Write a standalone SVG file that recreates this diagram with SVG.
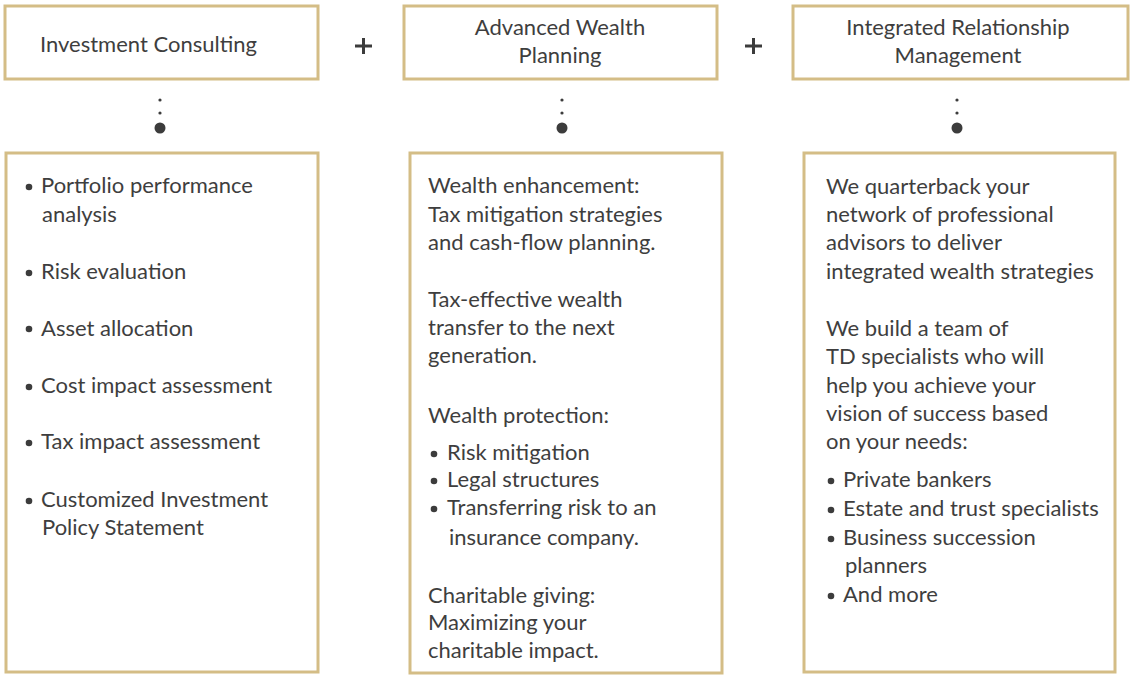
<svg xmlns="http://www.w3.org/2000/svg" width="1132" height="679" viewBox="0 0 1132 679">
<style>
.box{fill:#fff;stroke:#d4bd86;stroke-width:3}
.t{font-family:Lato,"Open Sans",sans-serif;font-size:22px;fill:#3e3e3e}
.c{text-anchor:middle}
.dot{fill:#3c3c3c}
.plus{stroke:#3c3c3c;stroke-width:3}
</style>
<rect width="1132" height="679" fill="#fff"/>
<g id="head1"><rect class="box" x="5" y="6" width="313" height="73"/><text class="t" x="40" y="52">Investment Consulting</text></g>
<g id="head2"><rect class="box" x="404" y="6" width="313" height="73"/><text class="t c" x="560" y="35">Advanced Wealth</text><text class="t c" x="560" y="63">Planning</text></g>
<g id="head3"><rect class="box" x="793" y="6" width="335" height="73"/><text class="t c" x="958" y="35">Integrated Relationship</text><text class="t c" x="958" y="63">Management</text></g>
<g id="plus1"><path class="plus" d="M355 46h17M363.5 38v16"/></g>
<g id="plus2"><path class="plus" d="M745 46h17M753.5 38v16"/></g>
<g id="connectors">
<circle class="dot" cx="160" cy="100" r="1.6"/><circle class="dot" cx="160" cy="113" r="1.6"/><circle class="dot" cx="160" cy="128" r="5.5"/>
<circle class="dot" cx="562" cy="100" r="1.6"/><circle class="dot" cx="562" cy="113" r="1.6"/><circle class="dot" cx="562" cy="128" r="5.5"/>
<circle class="dot" cx="957" cy="100" r="1.6"/><circle class="dot" cx="957" cy="113" r="1.6"/><circle class="dot" cx="957" cy="128" r="5.5"/>
</g>
<g id="body1"><rect class="box" x="6" y="153" width="312" height="519"/>
<g class="dot"><circle cx="29" cy="187" r="3.3"/><circle cx="29" cy="273" r="3.3"/><circle cx="29" cy="329" r="3.3"/><circle cx="29" cy="387" r="3.3"/><circle cx="29" cy="443" r="3.3"/><circle cx="29" cy="501" r="3.3"/></g>
<text class="t" x="41" y="193">Portfolio performance</text>
<text class="t" x="42" y="222">analysis</text>
<text class="t" x="41" y="279">Risk evaluation</text>
<text class="t" x="41" y="336">Asset allocation</text>
<text class="t" x="41" y="393">Cost impact assessment</text>
<text class="t" x="41" y="449">Tax impact assessment</text>
<text class="t" x="41" y="507">Customized Investment</text>
<text class="t" x="42" y="535">Policy Statement</text>
</g>
<g id="body2"><rect class="box" x="410" y="153" width="312" height="520"/>
<text class="t" x="428" y="193">Wealth enhancement:</text>
<text class="t" x="428" y="222">Tax mitigation strategies</text>
<text class="t" x="428" y="250">and cash-flow planning.</text>
<text class="t" x="428" y="307">Tax-effective wealth</text>
<text class="t" x="428" y="335">transfer to the next</text>
<text class="t" x="428" y="363">generation.</text>
<text class="t" x="428" y="423">Wealth protection:</text>
<g class="dot"><circle cx="434" cy="454" r="3.3"/><circle cx="434" cy="481" r="3.3"/><circle cx="434" cy="509" r="3.3"/></g>
<text class="t" x="447" y="460">Risk mitigation</text>
<text class="t" x="447" y="487">Legal structures</text>
<text class="t" x="447" y="515">Transferring risk to an</text>
<text class="t" x="449" y="545">insurance company.</text>
<text class="t" x="428" y="603">Charitable giving:</text>
<text class="t" x="428" y="630">Maximizing your</text>
<text class="t" x="428" y="658">charitable impact.</text>
</g>
<g id="body3"><rect class="box" x="804" y="153" width="311" height="519"/>
<text class="t" x="826" y="194">We quarterback your</text>
<text class="t" x="826" y="222">network of professional</text>
<text class="t" x="826" y="250">advisors to deliver</text>
<text class="t" x="826" y="279">integrated wealth strategies</text>
<text class="t" x="826" y="336">We build a team of</text>
<text class="t" x="826" y="364">TD specialists who will</text>
<text class="t" x="826" y="393">help you achieve your</text>
<text class="t" x="826" y="421">vision of success based</text>
<text class="t" x="826" y="449">on your needs:</text>
<g class="dot"><circle cx="831" cy="481" r="3.3"/><circle cx="831" cy="510" r="3.3"/><circle cx="831" cy="539" r="3.3"/><circle cx="831" cy="596" r="3.3"/></g>
<text class="t" x="843" y="487">Private bankers</text>
<text class="t" x="843" y="516">Estate and trust specialists</text>
<text class="t" x="843" y="545">Business succession</text>
<text class="t" x="845" y="573">planners</text>
<text class="t" x="843" y="602">And more</text>
</g>
</svg>
